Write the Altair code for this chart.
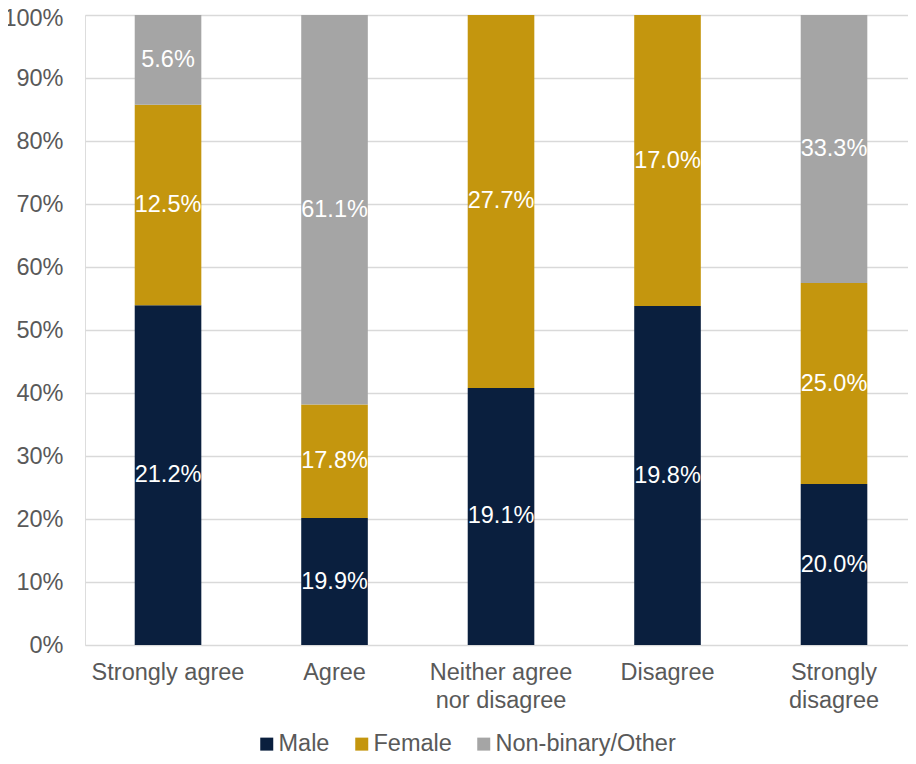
import altair as alt
import pandas as pd

categories = ["Strongly agree", "Agree", "Neither agree|nor disagree", "Disagree", "Strongly|disagree"]
groups = ["Male", "Female", "Non-binary/Other"]
male = [21.2, 19.9, 19.1, 19.8, 20.0]
female = [12.5, 17.8, 27.7, 17.0, 25.0]
nonbinary = [5.6, 61.1, 0.0, 0.0, 33.3]
colors = ["#0A1F3E", "#C4960E", "#A5A5A5"]

rows = []
for i, c in enumerate(categories):
    for j, (g, vals) in enumerate(zip(groups, [male, female, nonbinary])):
        rows.append({"category": c, "group": g, "order": j, "value": vals[i]})
df = pd.DataFrame(rows)

FONT = "Liberation Sans"
FS = 23.5

base = alt.Chart(df).transform_stack(
    stack="value", groupby=["category"], sort=[alt.SortField("order")],
    offset="normalize", as_=["v0", "v1"]
).transform_calculate(mid="(datum.v0 + datum.v1) / 2")

xscale = alt.Scale(paddingInner=0.6, paddingOuter=0.2715, align=0.55)

x = alt.X("category:N", sort=categories, title=None, scale=xscale,
          axis=alt.Axis(labelAngle=0, ticks=False, tickSize=0, domain=False,
                        labelPadding=15, labelFont=FONT, labelFontSize=FS,
                        labelColor="#595959", labelLineHeight=28.5,
                        labelExpr="split(datum.label, '|')"))

bars = base.mark_bar().encode(
    x=x,
    y=alt.Y("v0:Q", scale=alt.Scale(domain=[0, 1]), title=None,
            axis=alt.Axis(format=".0%", values=[i / 10 for i in range(11)],
                          ticks=False, tickSize=0, domain=False, labelPadding=22,
                          labelOffset={"condition": {"test": "datum.value >= 1", "value": 3}, "value": 0},
                          labelFont=FONT, labelFontSize=FS, labelColor="#595959",
                          grid=True, gridColor="#D9D9D9", gridWidth=1.5)),
    y2="v1:Q",
    color=alt.Color("group:N", sort=groups,
                    scale=alt.Scale(domain=groups, range=colors),
                    legend=alt.Legend(title=None, orient="none", direction="horizontal",
                                      legendX=170, legendY=717,
                                      symbolType="square", symbolSize=169,
                                      symbolStrokeWidth=0, symbolOpacity=1,
                                      labelFont=FONT, labelFontSize=FS,
                                      labelColor="#595959", labelOffset=0,
                                      labelLimit=0, columnPadding=20)),
)

text = base.transform_filter("datum.value > 0").transform_calculate(
    lbl="format(datum.value, '.1f') + '%'"
).mark_text(
    color="white", font=FONT, fontSize=FS, baseline="middle", align="center"
).encode(
    x=alt.X("category:N", sort=categories),
    y=alt.Y("mid:Q"),
    text="lbl:N",
)

chart = alt.layer(bars, text).properties(
    width=823, height=630,
    autosize=alt.AutoSizeParams(type="none"),
    padding={"left": 77, "top": 7, "right": 0, "bottom": 111},
).configure_view(stroke=None).configure(background="white")

chart.save("out.html", embed_options={"renderer": "svg", "actions": False})
